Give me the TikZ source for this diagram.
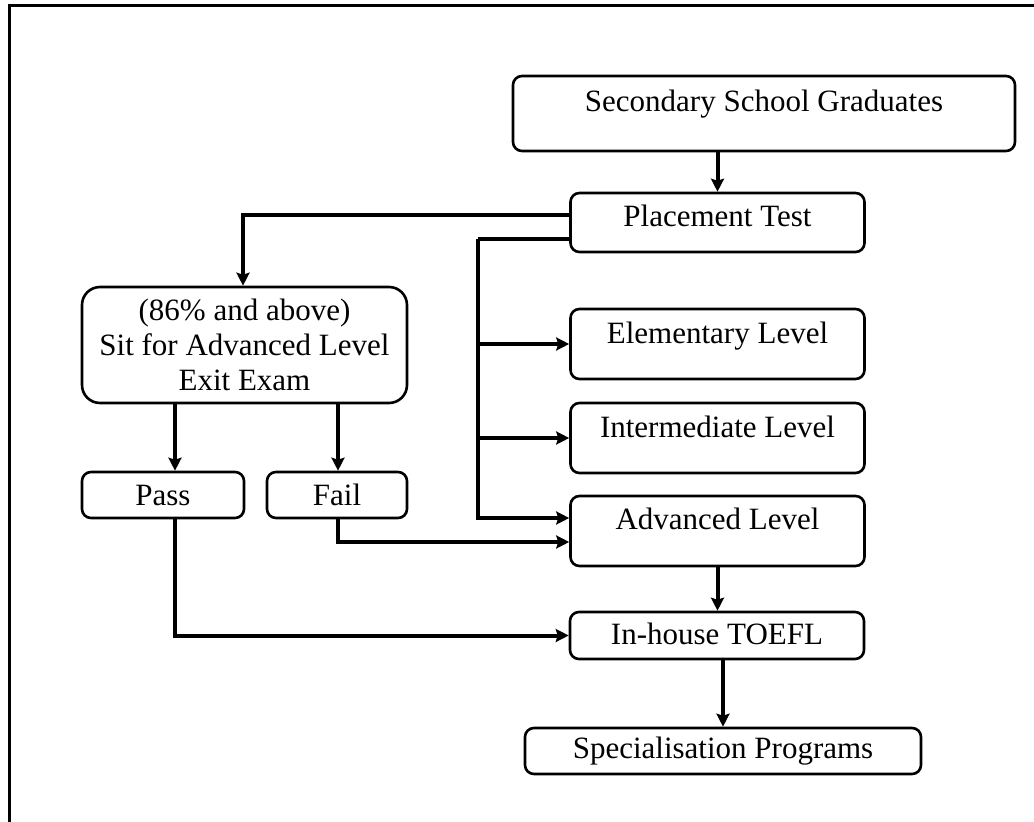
\documentclass[tikz,border=0pt]{standalone}
\usepackage{fontspec}
\setmainfont{Liberation Serif}
\usetikzlibrary{arrows.meta,calc}

\tikzset{
  box/.style={draw, line width=2.6pt, rounded corners=9pt, inner sep=0pt,
              font=\fontsize{31}{35}\selectfont, align=center},
  conn/.style={line width=4pt, -{Stealth[length=13pt,width=13pt,inset=2pt]}},
  frameline/.style={line width=3pt}
}

\begin{document}
\begin{tikzpicture}[x=1pt,y=-1pt]
  \useasboundingbox (0,0) rectangle (1034,822);
  \fill[white] (0,0) rectangle (1034,822);

  % outer frame (left and top edges visible)
  \draw[frameline] (9,822) -- (9,5) -- (1034,5);

  % boxes of the right-hand column
  \node[box, minimum width=502pt, minimum height=75pt, text height=35pt, text depth=40pt]
    (ssg) at (764,113.5) {Secondary School Graduates};
  \node[box, minimum width=294pt, minimum height=59pt, text height=33pt, text depth=26pt]
    (pt) at (717.5,222.5) {Placement Test};
  \node[box, minimum width=294pt, minimum height=70pt, text height=34pt, text depth=36pt]
    (elem) at (717.5,344) {Elementary Level};
  \node[box, minimum width=294pt, minimum height=70pt, text height=34pt, text depth=36pt]
    (inter) at (717.5,438) {Intermediate Level};
  \node[box, minimum width=294pt, minimum height=70pt, text height=33pt, text depth=37pt]
    (adv) at (717.5,531) {Advanced Level};
  \node[box, minimum width=294pt, minimum height=47pt, text height=32pt, text depth=15pt]
    (toefl) at (717,635.5) {In-house TOEFL};
  \node[box, minimum width=396pt, minimum height=46pt, text height=30pt, text depth=16pt]
    (spec) at (723,751) {Specialisation Programs};

  % boxes of the left-hand branch
  \node[box, rounded corners=18pt, minimum width=325pt, minimum height=116pt]
    (exit) at (244.5,345) {(86\% and above)\\Sit for Advanced Level\\Exit Exam};
  \node[box, minimum width=162pt, minimum height=46pt, text height=33pt, text depth=13pt]
    (pass) at (163,495) {Pass};
  \node[box, minimum width=140pt, minimum height=46pt, text height=33pt, text depth=13pt]
    (fail) at (337,495) {Fail};

  % vertical bus that feeds the three levels
  \coordinate (bus) at (478,239);

  % connectors
  \draw[conn] (pt.north |- ssg.south) -- (pt.north);
  \draw[conn] ([yshift=7.5pt]pt.west) -| ([xshift=-1.5pt]exit.north);
  \draw[line width=4pt] ([yshift=-16.5pt]pt.west) -- (bus);
  \draw[conn] (bus) |- ([yshift=13pt]adv.west);
  \draw[conn] (bus |- elem.west) -- (elem.west);
  \draw[conn] (bus |- inter.west) -- (inter.west);

  \draw[conn] ([xshift=12pt]pass.north |- exit.south) -- ([xshift=12pt]pass.north);
  \draw[conn] ([xshift=1pt]fail.north |- exit.south) -- ([xshift=1pt]fail.north);
  \draw[conn] ([xshift=1pt]fail.south) |- ([yshift=-11pt]adv.west);
  \draw[conn] ([xshift=12pt]pass.south) |- (toefl.west);

  \draw[conn] (adv.south) -- (toefl.north -| adv.south);
  \draw[conn] (spec.north |- toefl.south) -- (spec.north);
\end{tikzpicture}
\end{document}
